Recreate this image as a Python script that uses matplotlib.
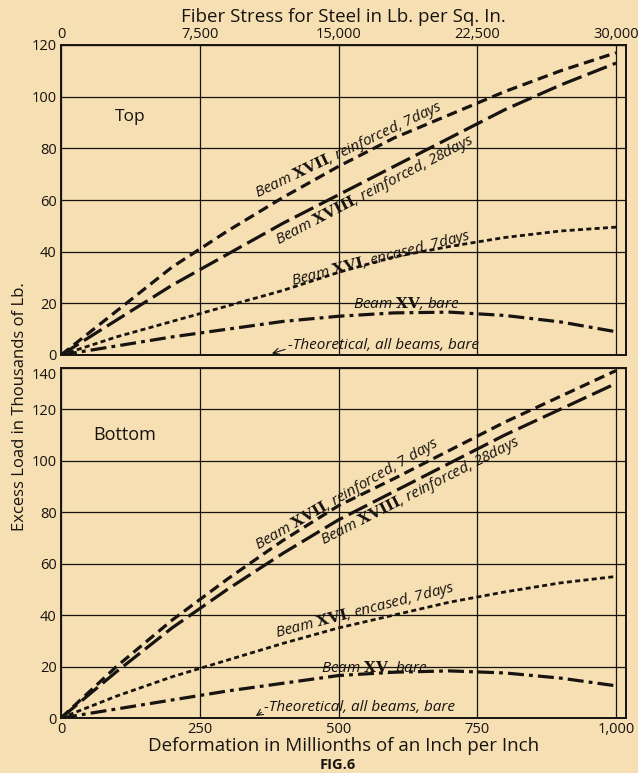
import matplotlib
matplotlib.use("Agg")
import matplotlib.pyplot as plt
import numpy as np

plt.rcParams['font.family'] = ['Open Sans', 'DejaVu Sans']
plt.rcParams['mathtext.fontset'] = 'dejavuserif'

# ---------------- data ----------------
deformation = [0, 100, 200, 300, 400, 500, 600, 700, 800, 900, 1000]

top_xvii = [0, 17, 34, 48, 61, 73, 84, 93, 102, 110, 117]
top_xviii = [0, 13.5, 27, 39, 51, 62, 73, 84, 95, 104.5, 113]
top_xvi = [0, 7, 13, 19, 25, 32, 38, 42, 45.5, 48, 49.5]
top_xv = [0, 3.5, 7, 10, 13, 15, 16.3, 16.6, 15.3, 12.8, 9]

bot_xvii = [0, 20, 38, 54, 69, 82.5, 93, 104, 115, 125, 135]
bot_xviii = [0, 18, 35, 50, 64, 77, 88, 99, 110, 120, 130]
bot_xvi = [0, 8.5, 16, 22.5, 29, 35, 40, 45, 49, 52.5, 55]
bot_xv = [0, 3.5, 7, 10.5, 13.5, 16.5, 17.8, 18.3, 17.5, 15.5, 12.5]

x_ticks = [0, 250, 500, 750, 1000]
x_ticklabels = ['0', '250', '500', '750', '1,000']
top_ticklabels = ['0', '7,500', '15,000', '22,500', '30,000']
top_yticks = [0, 20, 40, 60, 80, 100, 120]
bot_yticks = [0, 20, 40, 60, 80, 100, 120]

BG = '#F6DFB2'
INK = '#161310'

fig = plt.figure(figsize=(6.38, 7.73), dpi=100, facecolor=BG)

ax1 = fig.add_axes([61/638, 1-355/773, (626-61)/638, (355-45)/773])
ax2 = fig.add_axes([61/638, 1-718/773, (626-61)/638, (718-368)/773])

XMAX = 1018

styles = {
    'xvii': dict(lw=2.3, dashes=(3.3, 1.8)),
    'xviii': dict(lw=2.3, dashes=(6.5, 2.0)),
    'xvi': dict(lw=2.0, dashes=(1.8, 1.2)),
    'xv': dict(lw=2.3, dashes=(5.0, 1.6, 1.2, 1.6)),
}

def setup(ax, ymax, yticks, ylabels):
    ax.set_facecolor(BG)
    ax.set_xlim(0, XMAX)
    ax.set_ylim(0, ymax)
    ax.set_xticks(x_ticks)
    ax.set_yticks(yticks)
    ax.set_yticklabels(ylabels)
    ax.grid(True, color=INK, lw=0.9)
    ax.tick_params(length=0, labelsize=10.5, colors=INK, pad=3)
    for s in ax.spines.values():
        s.set_color(INK)
        s.set_linewidth(1.4)
    ax.set_axisbelow(True)

setup(ax1, 120, top_yticks, [str(v) for v in top_yticks])
setup(ax2, 136, bot_yticks + [136], [str(v) for v in bot_yticks] + ['140'])
ax1.set_xticklabels([])
ax2.set_xticklabels(x_ticklabels)
# keep the "140" of the bottom panel clear of the top panel's "0"
ax2.get_yticklabels()[-1].set_va('top')

# top secondary axis labels (fiber stress)
sec = ax1.secondary_xaxis('top')
sec.set_xticks(x_ticks)
sec.set_xticklabels(top_ticklabels)
sec.tick_params(length=0, labelsize=10.5, colors=INK, pad=2)
sec.set_xlabel('Fiber Stress for Steel in Lb. per Sq. In.', fontsize=13.5, color=INK, labelpad=4)

for ax, a, b, c, d in [(ax1, top_xvii, top_xviii, top_xvi, top_xv),
                       (ax2, bot_xvii, bot_xviii, bot_xvi, bot_xv)]:
    ax.plot(deformation, a, color=INK, dash_capstyle='butt', **styles['xvii'])
    ax.plot(deformation, b, color=INK, dash_capstyle='butt', **styles['xviii'])
    ax.plot(deformation, c, color=INK, dash_capstyle='butt', **styles['xvi'])
    ax.plot(deformation, d, color=INK, dash_capstyle='butt', **styles['xv'])

tk = dict(fontsize=11, color=INK, style='italic', ha='left', va='baseline', rotation_mode='anchor')

# top panel labels
ax1.text(124, 92, 'Top', fontsize=12.5, color=INK, ha='center', va='center')
ax1.text(353, 61, r'Beam $\mathbf{XVII}$, reinforced, 7days', rotation=25.5, **tk)
ax1.text(391, 42.6, r'Beam $\mathbf{XVIII}$, reinforced, 28days', rotation=27.5, **tk)
ax1.text(418, 27.1, r'Beam $\mathbf{XVI}$, encased, 7days', rotation=14.5, **tk)
ax1.text(526, 18.2, r'Beam $\mathbf{XV}$, bare', **tk)
ax1.annotate('-Theoretical, all beams, bare', xy=(380, 0.6), xytext=(409, 2.3),
             fontsize=11, color=INK, style='italic', ha='left', va='baseline',
             arrowprops=dict(arrowstyle='->', color=INK, lw=0.8, shrinkA=0, shrinkB=0,
                             relpos=(0, 0.3)))

# bottom panel labels
ax2.text(115, 110, 'Bottom', fontsize=13, color=INK, ha='center', va='center')
ax2.text(355, 65.2, r'Beam $\mathbf{XVII}$, reinforced, 7 days', rotation=30, **tk)
ax2.text(472, 67.2, r'Beam $\mathbf{XVIII}$, reinforced, 28days', rotation=27, **tk)
ax2.text(389, 31.5, r'Beam $\mathbf{XVI}$, encased, 7days', rotation=14.5, **tk)
ax2.text(468, 17.9, r'Beam $\mathbf{XV}$, bare', **tk)
ax2.annotate('-Theoretical, all beams, bare', xy=(351, 0.8), xytext=(366, 2.7),
             fontsize=11, color=INK, style='italic', ha='left', va='baseline',
             arrowprops=dict(arrowstyle='->', color=INK, lw=0.8, shrinkA=0, shrinkB=0,
                             relpos=(0, 0.3)))

ax2.set_xlabel('Deformation in Millionths of an Inch per Inch', fontsize=13.5, color=INK, labelpad=0)
fig.text(338/638, 1-765/773, 'FIG.6', fontsize=10.5, fontweight='bold', color=INK, ha='center', va='center')
fig.text(20/638, 1-407/773, 'Excess Load in Thousands of Lb.', fontsize=12, color=INK,
         rotation=90, ha='center', va='center')

fig.savefig('out.png', dpi=100, facecolor=BG)
